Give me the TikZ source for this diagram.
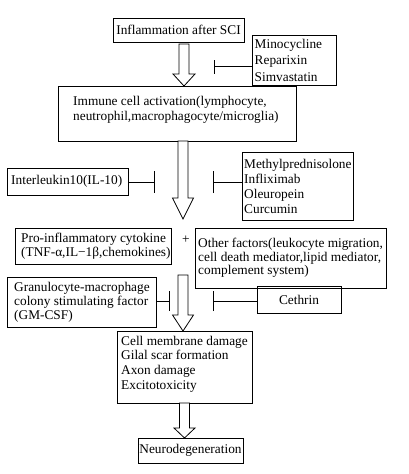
\documentclass[tikz,border=0pt]{standalone}
\usepackage{fontspec}
\setmainfont{Liberation Serif}
\usetikzlibrary{arrows.meta,calc}
\newcommand\fatarrow[4]{%
  \draw[fat] let \p1=(#1), \p2=(#2) in
  (\x2-5pt,\y1) -- (\x2-5pt,\y2+#3) -- (\x2-#4,\y2+#3) -- (\x2,\y2) --
  (\x2+#4,\y2+#3) -- (\x2+5pt,\y2+#3) -- (\x2+5pt,\y1) -- cycle;}
\begin{document}
\begin{tikzpicture}[x=1pt,y=-1pt,
  font=\fontsize{13.33}{14.5}\selectfont,
  box/.style={draw, line width=0.8pt, inner sep=0pt, outer sep=0pt},
  txt/.style={inner sep=0pt, align=left, anchor=west},
  fat/.style={draw, line width=0.8pt, fill=white, line join=miter},
  inh/.style={draw, line width=0.8pt, -{Bar[width=#1, line width=0.8pt]}},
  inh/.default=20pt]
\useasboundingbox (0,0) rectangle (409,474);

% boxes
\node[box, minimum width=131pt, minimum height=24pt] (infl) at (178.5,30) {Inflammation after SCI};

\node[box, minimum width=84pt, minimum height=50pt] (mino) at (294,60) {};
\node[txt, font=\fontsize{13.33}{16.5}\selectfont] (minoT) at ([xshift=2.5pt]mino.west) {Minocycline\\Reparixin\\Simvastatin};

\node[box, minimum width=238pt, minimum height=55pt] (immune) at (177,113.5) {};
\node[txt] (immuneT) at ([xshift=15pt,yshift=3.5pt]immune.west) {Immune cell activation(lymphocyte,\\neutrophil,macrophagocyte/microglia)};

\node[box, minimum width=121pt, minimum height=27pt] (il10) at (67.5,181.5) {};
\node[txt] (il10T) at ([xshift=4pt]il10.west) {Interleukin10(IL-10)};

\node[box, minimum width=111pt, minimum height=68pt] (methyl) at (297.5,186) {};
\node[txt, font=\fontsize{13.33}{15}\selectfont] (methylT) at ([xshift=2pt]methyl.west) {Methylprednisolone\\Infliximab\\Oleuropein\\Curcumin};

\node[box, minimum width=156pt, minimum height=36pt] (pro) at (93,246) {};
\node[txt, font=\fontsize{13.33}{13.5}\selectfont] (proT) at ([xshift=6pt]pro.west) {Pro-inflammatory cytokine\\(TNF-α,IL−1β,chemokines)};

\node (plus) at (186,240) {+};

\node[box, minimum width=191pt, minimum height=60pt] (other) at (290.5,258) {};
\node[txt, font=\fontsize{13.33}{13.5}\selectfont] (otherT) at ([xshift=3pt]other.west) {Other factors(leukocyte migration,\\cell death mediator,lipid mediator,\\complement system)};

\node[box, minimum width=149pt, minimum height=50pt] (gmcsf) at (81.5,302) {};
\node[txt, font=\fontsize{13.33}{14}\selectfont] (gmcsfT) at ([xshift=7pt]gmcsf.west) {Granulocyte-macrophage\\colony stimulating factor\\(GM-CSF)};

\node[box, minimum width=84pt, minimum height=27pt] (cethrin) at (299,299.5) {Cethrin};

\node[box, minimum width=135pt, minimum height=72pt] (cell) at (184.5,367) {};
\node[txt, font=\fontsize{13.33}{14.7}\selectfont] (cellT) at ([xshift=4pt,yshift=3pt]cell.west) {Cell membrane damage\\Gilal scar formation\\Axon damage\\Excitotoxicity};

\node[box, minimum width=105pt, minimum height=25pt] (neuro) at (190.5,450.5) {Neurodegeneration};

% inhibition connectors
\coordinate (b1) at (214,66.5);
\draw[inh=14pt] (b1 -| mino.west) -- (b1);
\coordinate (b2) at (155,182);
\draw[inh=22pt] (b2 -| il10.east) -- (b2);
\coordinate (b3) at (213,182);
\draw[inh=22pt] (b3 -| methyl.west) -- (b3);
\coordinate (b4) at (170,301);
\draw[inh=20pt] (b4 -| gmcsf.east) -- (b4);
\coordinate (b5) at (213,301);
\draw[inh=20pt] (b5 -| cethrin.west) -- (b5);

% block arrows
\coordinate (a1s) at (184,44);
\fatarrow{a1s}{a1s |- immune.north}{12pt}{11pt}
\coordinate (a2t) at (183,219);
\fatarrow{a2t |- immune.south}{a2t}{21pt}{10.5pt}
\coordinate (a3s) at (183,275);
\fatarrow{a3s}{a3s |- cell.north}{16pt}{10.5pt}
\fatarrow{cell.south}{cell.south |- neuro.north}{10pt}{10.5pt}
\end{tikzpicture}
\end{document}
